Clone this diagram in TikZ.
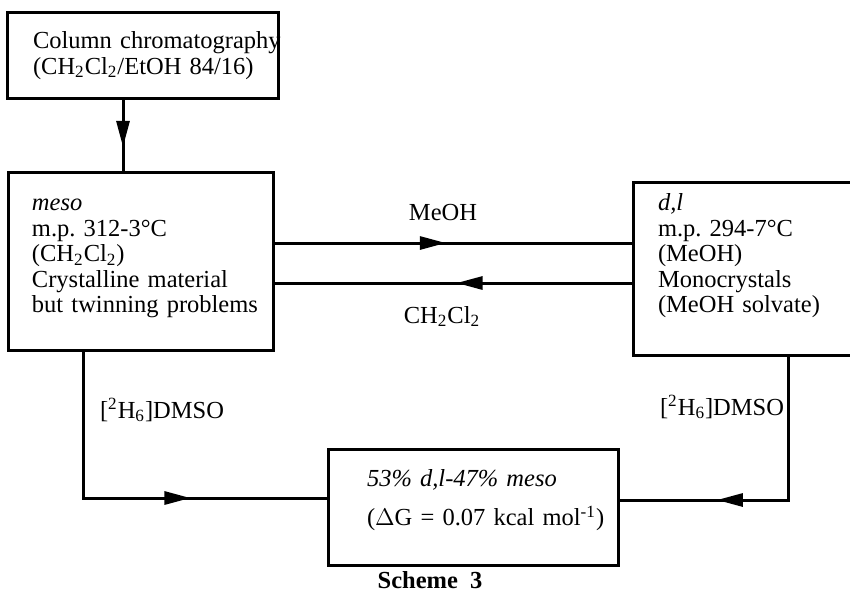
\documentclass[tikz,border=0pt]{standalone}
\usepackage{fontspec}
\setmainfont{Liberation Serif}
\usepackage{tikz}
\usetikzlibrary{arrows.meta,decorations.markings}
\frenchspacing
\newcommand{\dcm}{CH\textsubscript{2}Cl\textsubscript{2}}
\newcommand{\dmso}{[\textsuperscript{2}H\textsubscript{6}]DMSO}
\newcommand{\lowpad}[1]{\rule[-#1]{0pt}{#1}}

\begin{document}
\begin{tikzpicture}[x=0.5pt,y=-0.5pt,
    every node/.style={font=\fontsize{12.25pt}{12.75pt}\selectfont},
    stage/.style={draw,line width=1.5pt,anchor=north west,align=left,
                  inner ysep=0pt,outer sep=0pt,execute at begin node=\strut},
    flow/.style={line width=1.5pt},
    tipat/.style={postaction={decorate},decoration={markings,
                  mark=at position #1 with {\arrow{Triangle[length=13pt,width=6.5pt]}}}}]
    \useasboundingbox (0,0) rectangle (850,591);
    \clip (0,0) rectangle (850,591);
    % les quatre boites
    \node[stage,text width=109.5pt,inner xsep=13pt,minimum height=43pt] (colbox) at (7,12)
        {\mbox{Column chromatography}\\\mbox{(\dcm/EtOH 84/16)}};
    \node[stage,text width=108.5pt,inner xsep=12pt,minimum height=89pt] (mesobox) at (8,172)
        {\textit{meso}\\m.p. 312-3°C\\(\dcm)\\Crystalline material\\\mbox{but twinning problems}\lowpad{8.2pt}};
    \node[stage,text width=88.5pt,inner xsep=12.5pt,minimum height=86.5pt] (dlbox) at (633,182)
        {\textit{d,l}\\m.p. 294-7°C\\(MeOH)\\Monocrystals\\(MeOH solvate)\lowpad{15.7pt}};
    \node[stage,text width=106pt,inner xsep=19.5pt,minimum height=58pt] (mixbox) at (328,449)
        {\textit{53\% d,l-47\% meso}\\[4.75pt]\mbox{($\Delta$G = 0.07 kcal mol\textsuperscript{-1})}\lowpad{9.7pt}};
    % points de passage des fleches
    \coordinate (dropx) at (123,0);
    \coordinate (rowup) at (0,243);
    \coordinate (rowdn) at (0,283);
    \coordinate (elbowl) at (83,498);
    \coordinate (elbowr) at (788,500);
    % fleches
    \draw[flow,tipat=0.66] (colbox.south -| dropx) -- (mesobox.north -| dropx);
    \draw[flow,tipat=0.48] (mesobox.east |- rowup) -- (dlbox.west |- rowup);
    \draw[flow,tipat=0.49] (dlbox.west |- rowdn) -- (mesobox.east |- rowdn);
    \draw[flow,tipat=0.65] (mesobox.south -| elbowl) |- (mixbox.west |- elbowl);
    \draw[flow,tipat=0.686] (dlbox.south -| elbowr) |- (mixbox.east |- elbowr);
    % etiquettes
    \node[anchor=base] (lblmeoh) at (443,220) {MeOH};
    \node[anchor=base] (lbldcm) at (442,323) {\dcm};
    \node[anchor=base west] (lbldmsol) at (93,418) {\dmso};
    \node[anchor=base west] (lbldmsor) at (653,415) {\dmso};
    \node[anchor=base,font=\fontsize{12.25pt}{12.75pt}\selectfont\bfseries] (caption) at (430,588)
        {Scheme\hspace{3pt} 3};
\end{tikzpicture}
\end{document}
